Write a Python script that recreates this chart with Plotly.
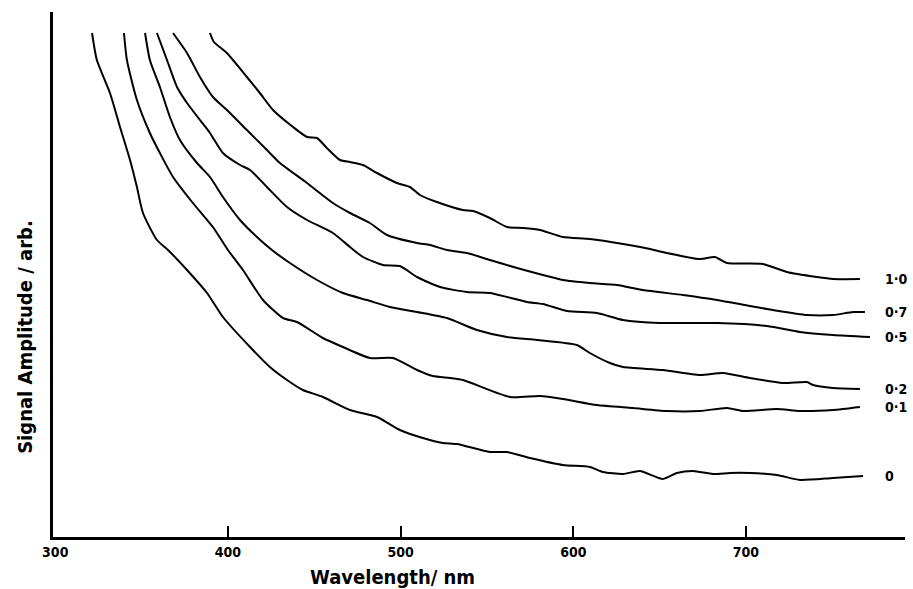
import plotly.graph_objects as go

# ---- data (wavelength in nm, amplitude in arbitrary units) ----
series_labels = ["0", "0·1", "0·2", "0·5", "0·7", "1·0"]

wl_c0 = [321.3, 324.1, 331.7, 337.5, 343.3, 347.3, 350.8, 358.9, 365.3, 376.3, 387.9, 397.1, 412.8, 424.3,
         434.2, 443.4, 455.0, 470.7, 486.3, 499.6, 512.9, 524.5, 532.6, 551.7, 561.6, 574.9, 594.0, 609.6,
         617.2, 628.8, 638.6, 651.9, 660.0, 669.3, 680.9, 690.7, 702.3, 717.9, 731.3, 750.4, 767.8]
amp_c0 = [504, 477, 444, 410, 377, 350, 324, 297, 287, 267, 244, 220, 190, 170, 157, 147, 140, 127, 120, 107,
          99, 94, 93, 85, 85, 79, 72, 70, 65, 63, 66, 58, 64, 66, 63, 64, 64, 62, 57, 59, 61]

wl_c01 = [339.8, 341.5, 347.3, 354.8, 360.6, 368.2, 379.7, 391.3, 400.0, 408.7, 420.3, 431.9, 440.0, 455.0,
          466.6, 482.2, 495.6, 509.5, 518.7, 528.6, 536.1, 563.3, 580.7, 594.0, 613.7, 634.5, 654.2, 673.3,
          689.0, 698.2, 717.9, 731.3, 750.4, 766.0]
amp_c01 = [504, 477, 437, 404, 384, 360, 334, 310, 287, 267, 237, 219, 215, 199, 190, 179, 179, 167, 161, 159,
           157, 140, 141, 138, 132, 129, 126, 126, 129, 126, 128, 126, 127, 130]

wl_c02 = [352.0, 354.8, 360.6, 366.4, 372.2, 382.1, 389.6, 397.1, 407.0, 416.8, 425.5, 435.9, 451.6, 466.6,
          480.5, 493.8, 509.5, 526.8, 544.2, 561.6, 579.0, 602.1, 609.6, 621.2, 628.8, 651.9, 673.3, 686.7,
          702.3, 721.4, 735.3, 738.8, 750.4, 766.0]
amp_c02 = [504, 477, 450, 420, 397, 374, 360, 340, 317, 300, 287, 274, 257, 244, 237, 230, 225, 219, 207, 200,
           197, 192, 184, 174, 170, 167, 162, 164, 159, 154, 155, 152, 149, 148]

wl_c05 = [358.9, 364.7, 370.5, 376.3, 383.8, 389.6, 397.1, 407.0, 412.8, 422.6, 434.2, 445.8, 460.8, 470.7,
          478.2, 489.8, 499.6, 509.5, 522.8, 538.4, 551.7, 561.6, 573.2, 582.4, 596.3, 613.7, 628.8, 650.2,
          663.5, 683.2, 712.2, 731.3, 750.4, 771.8]
amp_c05 = [504, 477, 450, 434, 417, 404, 384, 372, 367, 350, 330, 317, 304, 290, 280, 272, 271, 260, 250, 245,
           244, 240, 235, 233, 226, 224, 217, 214, 214, 214, 211, 205, 202, 200]

wl_c07 = [368.2, 376.3, 383.8, 391.3, 399.4, 411.0, 422.6, 430.1, 445.8, 460.8, 470.7, 482.2, 492.1, 509.5,
          517.0, 526.8, 538.4, 551.7, 567.4, 582.4, 594.0, 609.6, 625.3, 640.3, 663.5, 683.2, 702.3, 715.6,
          735.3, 750.4, 762.0, 768.9]
amp_c07 = [504, 484, 460, 440, 427, 407, 387, 374, 354, 334, 324, 314, 302, 294, 292, 287, 284, 277, 269, 262,
           257, 254, 252, 247, 242, 237, 231, 227, 222, 222, 225, 225]

wl_c10 = [389.6, 391.9, 399.4, 411.0, 418.5, 426.1, 437.7, 445.8, 451.6, 457.3, 464.9, 470.7, 478.2, 486.3,
          497.9, 505.4, 511.2, 521.0, 536.1, 541.9, 551.7, 561.6, 570.9, 580.7, 594.0, 609.6, 628.8, 644.4,
          654.2, 673.3, 682.0, 689.0, 709.8, 723.7, 741.1, 750.4, 766.0]
amp_c10 = [504, 495, 484, 460, 444, 427, 410, 400, 399, 389, 377, 375, 372, 364, 354, 350, 342, 335, 327, 326,
           319, 310, 309, 307, 300, 298, 293, 288, 284, 278, 280, 274, 273, 265, 260, 258, 258]

x_tick_values = [300, 400, 500, 600, 700]
x_tick_labels = ["300", "400", "500", "600", "700"]

# ---- figure ----
FONT = "DejaVu Sans Condensed, Liberation Sans Narrow, DejaVu Sans, sans-serif"
all_wl = [wl_c0, wl_c01, wl_c02, wl_c05, wl_c07, wl_c10]
all_amp = [amp_c0, amp_c01, amp_c02, amp_c05, amp_c07, amp_c10]

fig = go.Figure()
for lab, xs, ys in zip(series_labels, all_wl, all_amp):
    fig.add_trace(go.Scatter(x=xs, y=ys, mode="lines", name=lab,
                             line=dict(color="black", width=2, shape="spline", smoothing=0.6),
                             showlegend=False))
    fig.add_annotation(x=779.5, y=ys[-1], text=lab, showarrow=False, xanchor="left", yanchor="middle",
                       font=dict(family=FONT, size=14, color="black", weight="bold"))

fig.add_annotation(xref="paper", yref="paper", x=0.398, y=-0.076, text="Wavelength/ nm", showarrow=False,
                   xanchor="center", yanchor="middle",
                   font=dict(family=FONT, size=20, color="black", weight="bold"))
fig.add_annotation(xref="paper", yref="paper", x=-0.033, y=0.381, text="Signal Amplitude / arb.",
                   showarrow=False, textangle=-90, xanchor="center", yanchor="middle",
                   font=dict(family=FONT, size=20, color="black", weight="bold"))

fig.update_layout(
    width=913, height=589,
    margin=dict(l=53, r=8, t=12, b=52),
    paper_bgcolor="white", plot_bgcolor="white",
    xaxis=dict(range=[298.7, 792.1], showgrid=False, zeroline=False,
               showline=True, linecolor="black", linewidth=2.5,
               tickmode="array", tickvals=x_tick_values, ticktext=x_tick_labels, ticks="",
               tickfont=dict(family=FONT, size=14, color="black", weight="bold"),
               minor=dict(tickmode="array", tickvals=x_tick_values[1:], ticks="inside",
                          ticklen=11, tickwidth=1.5, tickcolor="black", showgrid=False)),
    yaxis=dict(range=[0, 525], showgrid=False, zeroline=False, showticklabels=False,
               showline=True, linecolor="black", linewidth=2.5, ticks=""),
)

fig.write_html("out.html")
